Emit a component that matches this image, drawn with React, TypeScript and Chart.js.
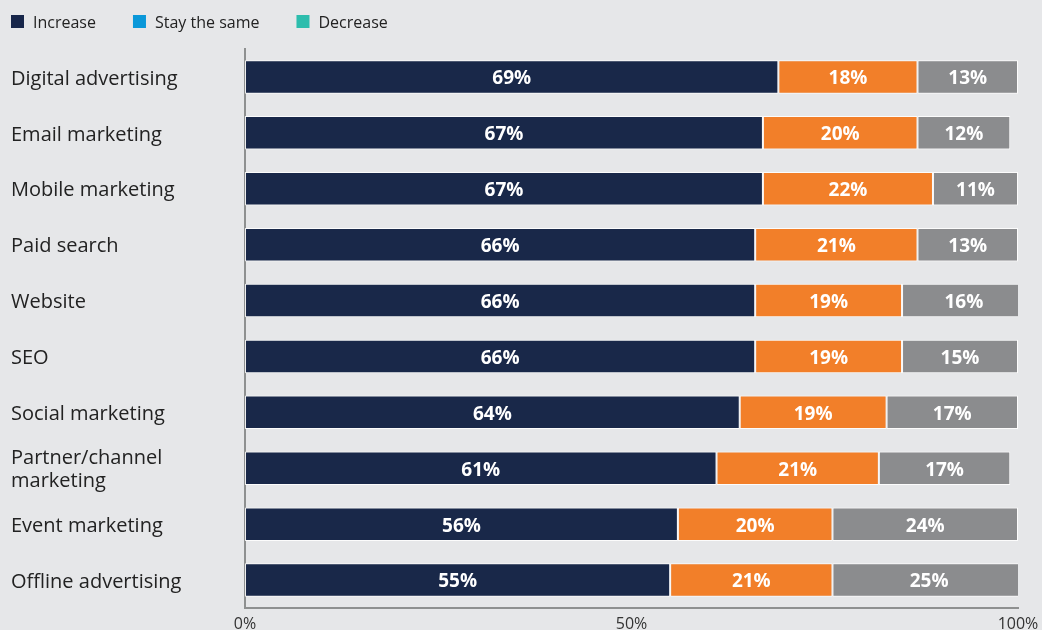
import React, { useEffect, useRef } from "react";
import { Chart, registerables } from "chart.js";

Chart.register(...registerables);

const categories: (string | string[])[] = [
  "Digital advertising",
  "Email marketing",
  "Mobile marketing",
  "Paid search",
  "Website",
  "SEO",
  "Social marketing",
  ["Partner/channel", "marketing"],
  "Event marketing",
  "Offline advertising",
];

const increaseValues = [69, 67, 67, 66, 66, 66, 64, 61, 56, 55];
const stayValues = [18, 20, 22, 21, 19, 19, 19, 21, 20, 21];
const decreaseValues = [13, 12, 11, 13, 16, 15, 17, 17, 24, 25];

const legendNames = ["Increase", "Stay the same", "Decrease"];
const legendColors = ["#17264a", "#0a98d9", "#2dbdad"];
const barColors = ["#192849", "#f27f29", "#8b8c8e"];

const xTicks = [0, 50, 100];

const BG = "#e6e7e9";
const FONT = "'Open Sans', 'Noto Sans', sans-serif";

const legendPlugin = {
  id: "customLegend",
  afterDraw(chart: any) {
    const ctx = chart.ctx;
    ctx.save();
    ctx.font = `16px ${FONT}`;
    ctx.textBaseline = "middle";
    ctx.textAlign = "left";
    let x = 11;
    const y = 22;
    legendNames.forEach((name, i) => {
      ctx.fillStyle = legendColors[i];
      ctx.fillRect(x, y - 7, 13, 13);
      ctx.fillStyle = "#222";
      ctx.fillText(name, x + 22, y + 1);
      x = x + 22 + ctx.measureText(name).width + 37;
    });
    ctx.restore();
  },
};

const valueLabelPlugin = {
  id: "valueLabels",
  afterDatasetsDraw(chart: any) {
    const ctx = chart.ctx;
    ctx.save();
    ctx.font = `bold 19px ${FONT}`;
    ctx.fillStyle = "#ffffff";
    ctx.textAlign = "center";
    ctx.textBaseline = "middle";
    chart.data.datasets.forEach((ds: any, di: number) => {
      const meta = chart.getDatasetMeta(di);
      meta.data.forEach((el: any, i: number) => {
        const v = ds.data[i];
        const cx = (el.x + el.base) / 2;
        ctx.fillText(`${v}%`, cx, el.y + 2);
      });
    });
    ctx.restore();
  },
};

export default function App() {
  const ref = useRef<HTMLCanvasElement>(null);

  useEffect(() => {
    document.body.style.margin = "0";
    document.body.style.background = BG;
    const canvas = ref.current!;
    const chart = new Chart(canvas, {
      type: "bar",
      data: {
        labels: categories,
        datasets: [
          { label: legendNames[0], data: increaseValues, backgroundColor: barColors[0] },
          { label: legendNames[1], data: stayValues, backgroundColor: barColors[1] },
          { label: legendNames[2], data: decreaseValues, backgroundColor: barColors[2] },
        ].map((d) => ({
          ...d,
          borderColor: "rgba(255,255,255,0.85)",
          borderWidth: 1,
          borderSkipped: false,
          barPercentage: 0.6,
          categoryPercentage: 1,
        })),
      },
      options: {
        indexAxis: "y",
        responsive: false,
        animation: false,
        layout: { padding: { left: 11, right: 24, top: 49, bottom: 0 } },
        plugins: {
          legend: { display: false },
          tooltip: { enabled: false },
        },
        scales: {
          x: {
            stacked: true,
            min: 0,
            max: 100,
            grid: { display: false, drawTicks: false, tickLength: 0 },
            border: { display: true, color: "#8e9090", width: 2 },
            afterBuildTicks: (scale: any) => {
              scale.ticks = xTicks.map((v) => ({ value: v }));
            },
            afterFit: (scale: any) => {
              scale.height = 22;
              scale.paddingLeft = 0;
              scale.paddingRight = 0;
            },
            ticks: {
              padding: 7,
              color: "#333",
              font: { family: FONT, size: 16 },
              callback: (v: any) => `${v}%`,
              maxRotation: 0,
            },
          },
          y: {
            stacked: true,
            grid: { display: false, drawTicks: false, tickLength: 0 },
            border: { display: true, color: "#8e9090", width: 2 },
            afterFit: (scale: any) => {
              scale.width = 234;
              scale.paddingTop = 0;
              scale.paddingBottom = 0;
            },
            ticks: {
              crossAlign: "far",
              color: "#222",
              font: { family: FONT, size: 20, lineHeight: 1.15 },
              padding: 0,
              labelOffset: 2,
            },
          },
        },
      },
      plugins: [legendPlugin, valueLabelPlugin],
    } as any);
    return () => chart.destroy();
  }, []);

  return (
    <div style={{ width: 1042, height: 630, background: BG }}>
      <canvas ref={ref} width={1042} height={630} style={{ display: "block" }} />
    </div>
  );
}
